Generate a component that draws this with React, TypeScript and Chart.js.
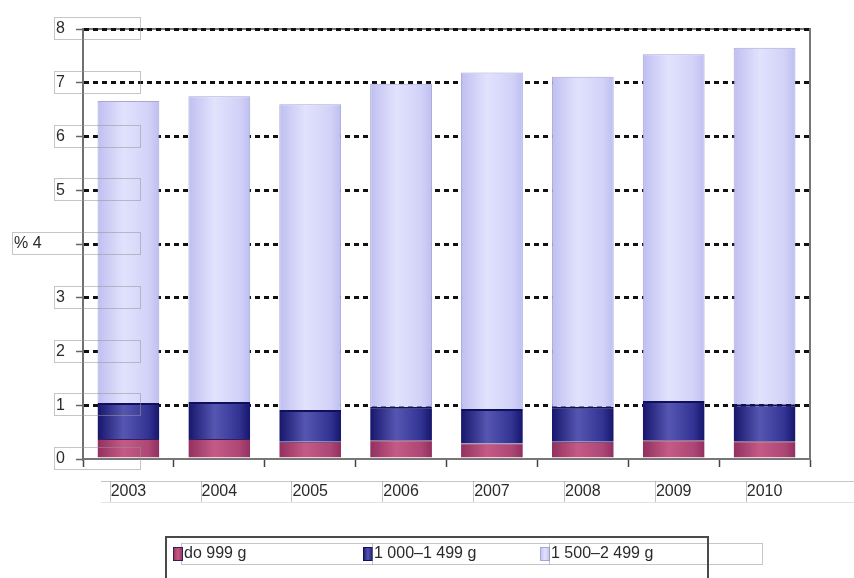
import React, { useEffect, useRef } from "react";
import { Chart, registerables } from "chart.js";

Chart.register(...registerables);

// Share of live births by birth weight, per year (%)
const years = ["2003", "2004", "2005", "2006", "2007", "2008", "2009", "2010"];
const under999 = [0.37, 0.37, 0.32, 0.35, 0.29, 0.32, 0.35, 0.33];
const from1000to1499 = [0.67, 0.69, 0.59, 0.62, 0.64, 0.65, 0.73, 0.69];
const from1500to2499 = [5.62, 5.69, 5.69, 6.01, 6.26, 6.14, 6.45, 6.63];
const seriesNames = ["do 999 g", "1 000–1 499 g", "1 500–2 499 g"];
const yTickValues = [0, 1, 2, 3, 4, 5, 6, 7, 8];
const yUnit = "%";

const W = 854;
const H = 578;
const BAR_PCT = 0.68;
const FONT = '16px "Liberation Sans", Arial, sans-serif';
const TEXT = "#2b2b2b";
const BOX = "rgba(150,150,150,0.55)";

type Palette = { edge: string; mid: string; soft: string; border: string };
const palettes: Palette[] = [
  { edge: "#92305f", mid: "#c55a86", soft: "#ad4776", border: "#3a1d55" },
  { edge: "#16166c", mid: "#5656b2", soft: "#333394", border: "#10105a" },
  { edge: "#bfbff1", mid: "#e2e2fd", soft: "#d2d2f8", border: "#a6a6d8" },
];

function barFill(p: Palette) {
  return (c: any) => {
    const chart = c.chart;
    const xs = chart.scales?.x;
    const area = chart.chartArea;
    if (!xs || !area || c.dataIndex == null) return p.mid;
    const cx = xs.getPixelForValue(c.dataIndex);
    const half = ((area.right - area.left) / years.length) * BAR_PCT / 2;
    const g = chart.ctx.createLinearGradient(cx - half, 0, cx + half, 0);
    g.addColorStop(0, p.edge);
    g.addColorStop(0.42, p.mid);
    g.addColorStop(0.82, p.soft);
    g.addColorStop(1, p.edge);
    return g;
  };
}

const chromePlugin = {
  id: "chrome",
  beforeDraw(chart: any) {
    const { ctx, chartArea: a } = chart;
    ctx.save();
    ctx.fillStyle = "#fff";
    ctx.fillRect(0, 0, W, H);
    // plot frame: top and right edges
    ctx.strokeStyle = "#777";
    ctx.lineWidth = 2;
    ctx.beginPath();
    ctx.moveTo(a.left, a.top);
    ctx.lineTo(a.right, a.top);
    ctx.lineTo(a.right, a.bottom);
    ctx.stroke();
    ctx.restore();
  },
  afterDraw(chart: any) {
    const { ctx, chartArea: a, scales } = chart;
    const ys = scales.y;
    const xs = scales.x;
    ctx.save();
    ctx.font = FONT;
    ctx.textBaseline = "middle";

    // y tick labels with their boxes
    yTickValues.forEach((v) => {
      const py = ys.getPixelForValue(v);
      const withUnit = v === 4;
      const left = withUnit ? 12 : 54;
      ctx.strokeStyle = BOX;
      ctx.lineWidth = 1;
      ctx.strokeRect(left + 0.5, Math.round(py - 12) + 0.5, 140 - left, 22);
      ctx.fillStyle = TEXT;
      ctx.textAlign = "left";
      ctx.fillText(withUnit ? `${yUnit} ${v}` : String(v), left + 2, py);
    });

    // x category labels
    const rowTop = a.bottom + 22;
    ctx.strokeStyle = BOX;
    ctx.beginPath();
    ctx.moveTo(101, rowTop + 0.5);
    ctx.lineTo(W, rowTop + 0.5);
    ctx.stroke();
    ctx.strokeStyle = "rgba(190,190,190,0.45)";
    ctx.beginPath();
    ctx.moveTo(101, rowTop + 21.5);
    ctx.lineTo(W, rowTop + 21.5);
    ctx.stroke();
    years.forEach((y, i) => {
      const px = xs.getPixelForValue(i);
      const tw = ctx.measureText(y).width;
      const lx = Math.round(px - tw / 2) - 1;
      ctx.strokeStyle = BOX;
      ctx.beginPath();
      ctx.moveTo(lx + 0.5, rowTop);
      ctx.lineTo(lx + 0.5, rowTop + 21);
      ctx.stroke();
      ctx.fillStyle = TEXT;
      ctx.textAlign = "center";
      ctx.fillText(y, px, rowTop + 11);
    });

    // legend
    const legTop = 537;
    const legMid = 554;
    const cols = [173, 363, 540];
    ctx.strokeStyle = BOX;
    ctx.strokeRect(181.5, legTop + 6.5, 581, 21);
    ctx.strokeStyle = "#4a4a4a";
    ctx.lineWidth = 2;
    ctx.strokeRect(166, legTop, 542, 60);
    seriesNames.forEach((name, i) => {
      const x = cols[i];
      const p = palettes[i];
      const g = ctx.createLinearGradient(x, 0, x + 10, 0);
      g.addColorStop(0, p.edge);
      g.addColorStop(0.5, p.mid);
      g.addColorStop(1, p.edge);
      ctx.fillStyle = g;
      ctx.fillRect(x, legMid - 7, 10, 14);
      ctx.strokeStyle = p.border;
      ctx.lineWidth = 1;
      ctx.strokeRect(x + 0.5, legMid - 6.5, 9, 13);
      if (i > 0) {
        ctx.strokeStyle = BOX;
        ctx.beginPath();
        ctx.moveTo(x + 9.5, legTop + 6);
        ctx.lineTo(x + 9.5, legTop + 28);
        ctx.stroke();
      }
      ctx.fillStyle = TEXT;
      ctx.textAlign = "left";
      ctx.fillText(name, x + 11, legMid);
    });
    ctx.restore();
  },
};

export default function App() {
  const ref = useRef<HTMLCanvasElement | null>(null);

  useEffect(() => {
    if (!ref.current) return;
    const series = [under999, from1000to1499, from1500to2499];
    const borders = [
      { top: 1, left: 0, right: 0, bottom: 0 },
      { top: 2, left: 0, right: 0, bottom: 0 },
      1,
    ];
    const chart = new Chart(ref.current, {
      type: "bar",
      data: {
        labels: years,
        datasets: series.map((data, i) => ({
          label: seriesNames[i],
          data,
          backgroundColor: barFill(palettes[i]),
          borderColor: palettes[i].border,
          borderWidth: borders[i] as any,
          borderSkipped: "bottom",
          barPercentage: BAR_PCT,
          categoryPercentage: 1,
        })),
      },
      options: {
        responsive: false,
        animation: false,
        devicePixelRatio: 1,
        layout: { padding: { top: 29, right: 44, left: 0, bottom: 0 } },
        plugins: { legend: { display: false }, tooltip: { enabled: false } },
        scales: {
          x: {
            stacked: true,
            offset: true,
            ticks: { display: false },
            grid: {
              offset: true,
              drawOnChartArea: false,
              drawTicks: true,
              tickLength: 8,
              tickColor: "#444",
              tickWidth: 1.5,
            },
            border: { display: true, color: "#777", width: 2 },
            afterFit: (s: any) => {
              s.height = 119;
            },
          },
          y: {
            stacked: true,
            min: 0,
            max: 8,
            ticks: { display: false, stepSize: 1 },
            grid: {
              color: (c: any) => (c.tick && c.tick.value === 0 ? "rgba(0,0,0,0)" : "#111"),
              lineWidth: 3,
              drawTicks: true,
              tickLength: 7,
              tickColor: "#666",
              tickWidth: 1.5,
              tickBorderDash: [],
            },
            border: { display: true, color: "#707070", width: 2, dash: [5, 4] },
            afterFit: (s: any) => {
              s.width = 83;
            },
          },
        },
      },
      plugins: [chromePlugin],
    });
    return () => chart.destroy();
  }, []);

  return (
    <canvas
      ref={ref}
      width={W}
      height={H}
      style={{ position: "fixed", left: 0, top: 0, width: W, height: H }}
    />
  );
}
